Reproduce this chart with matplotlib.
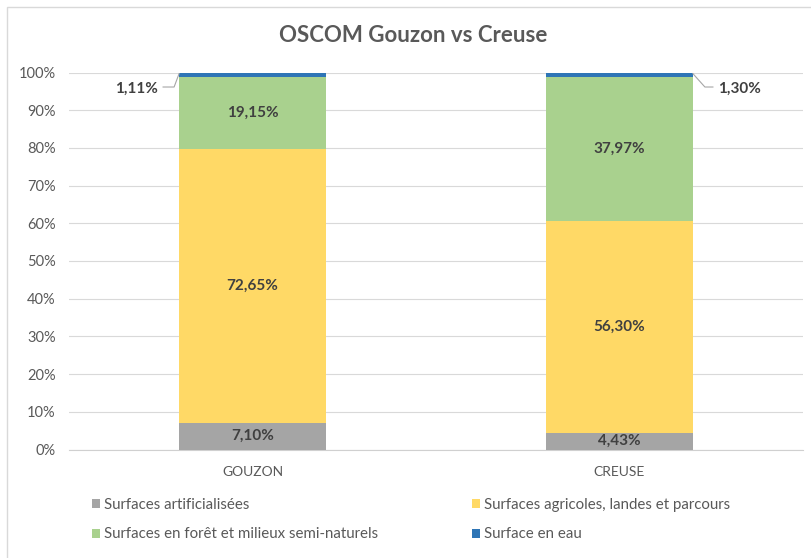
import matplotlib.pyplot as plt
import numpy as np
from matplotlib.patches import Rectangle

plt.rcParams["font.family"] = ["Lato", "DejaVu Sans"]

categories = ["GOUZON", "CREUSE"]
series_names = [
    "Surfaces artificialisées",
    "Surfaces agricoles, landes et parcours",
    "Surfaces en forêt et milieux semi-naturels",
    "Surface en eau",
]
artificial = [7.10, 4.43]
agricultural = [72.65, 56.30]
forest = [19.15, 37.97]
water = [1.11, 1.30]
colors = ["#A5A5A5", "#FFD966", "#A9D18E", "#2E75B6"]
yticks = np.arange(0, 101, 10)

W, H = 812, 558


def fmt(v: float) -> str:
    return f"{v:.2f}".replace(".", ",") + "%"


fig = plt.figure(figsize=(W / 100, H / 100), dpi=100)
# chart area border (right/bottom edges fall outside the image)
fig.patches.append(
    Rectangle((7 / W, -0.05), 1.0, 1 - 7 / H + 0.05, transform=fig.transFigure,
              fill=False, edgecolor="#D9D9D9", linewidth=1.0)
)
ax = fig.add_axes([69 / W, 1 - 449.5 / H, 734 / W, 377 / H])

x = np.arange(len(categories))
width = 0.40
series = [artificial, agricultural, forest, water]
totals = np.sum(series, axis=0)
bottom = np.zeros(len(categories))
handles = []
for name, vals, col in zip(series_names, series, colors):
    frac = np.array(vals) / totals
    h = ax.bar(x, frac, width, bottom=bottom, color=col, label=name, zorder=3)
    handles.append(h)
    if name != "Surface en eau":
        for xi, b, f, raw in zip(x, bottom, frac, vals):
            ax.text(xi, b + f / 2, fmt(raw), ha="center", va="center",
                    fontsize=11, fontweight="bold", color="#404040", zorder=4)
    bottom = bottom + frac

# water labels outside the bars, with leader lines
px = 1 / 367
label_y = 0.9615
leaders = [(-1, 5, 11), (1, 12, 8)]  # side, diagonal dx, horizontal length (px)
for xi, raw, (side, ddx, hl) in zip(x, water, leaders):
    edge = xi + side * width / 2
    x1 = edge + side * ddx * px
    x2 = x1 + side * hl * px
    ax.plot([edge, x1, x2], [0.997, label_y, label_y], color="#A6A6A6",
            linewidth=0.8, zorder=4, clip_on=False)
    ax.text(x2 + side * 5 * px, label_y - 0.004, fmt(raw),
            ha="right" if side < 0 else "left", va="center",
            fontsize=11, fontweight="bold", color="#404040")

ax.set_xlim(-0.5, 1.5)
ax.set_ylim(0, 1)
ax.set_yticks(yticks / 100)
ax.set_yticklabels([f"{t}%" for t in yticks])
ax.set_xticks(x)
ax.set_xticklabels(categories)
ax.tick_params(axis="both", length=0, labelcolor="#595959")
ax.tick_params(axis="y", pad=9.5, labelsize=10.5)
ax.tick_params(axis="x", pad=12, labelsize=10)
ax.grid(axis="y", color="#D9D9D9", linewidth=0.8, zorder=0)
for s in ["top", "right", "left"]:
    ax.spines[s].set_visible(False)
ax.spines["bottom"].set_color("#D0D0D0")
ax.spines["bottom"].set_linewidth(0.8)

fig.text(413 / W, 1 - 35 / H, "OSCOM Gouzon vs Creuse", ha="center", va="center",
         fontsize=16, fontweight="bold", color="#595959")

# legend laid out row by row, one legend per column
leg_kw = dict(loc="center left", ncol=1, frameon=False, fontsize=10.8,
              labelcolor="#595959", handlelength=0.55, handleheight=0.55,
              handletextpad=0.25, labelspacing=1.05, borderaxespad=0)
leg1 = fig.legend([handles[0], handles[2]], [series_names[0], series_names[2]],
                  bbox_to_anchor=(86 / W, 1 - 519.5 / H), **leg_kw)
leg2 = fig.legend([handles[1], handles[3]], [series_names[1], series_names[3]],
                  bbox_to_anchor=(466 / W, 1 - 519.5 / H), **leg_kw)

fig.savefig("out.png", dpi=100)
